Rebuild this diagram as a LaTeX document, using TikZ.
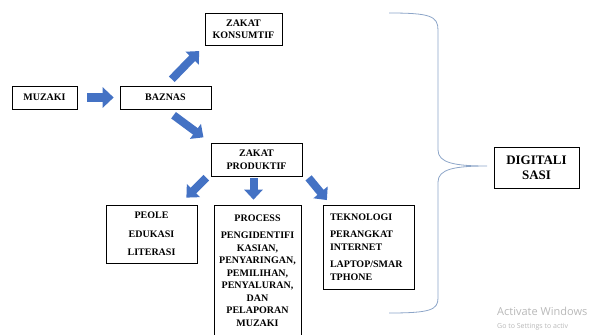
\documentclass[tikz,border=0pt]{standalone}
\usepackage{fontspec}
\setmainfont{Liberation Serif}
\newfontfamily\winfont{Open Sans}
\usetikzlibrary{arrows.meta}
\definecolor{arrowblue}{RGB}{68,114,196}
\definecolor{bracegray}{RGB}{140,165,200}
\begin{document}
\begin{tikzpicture}[x=1pt, y=-1pt,
  box/.style={draw, line width=0.6pt, align=center, inner sep=2pt,
    font=\fontsize{10}{12.5}\selectfont\bfseries},
  blockarrow/.style={draw=arrowblue, line width=9pt,
    -{Triangle[width=20pt,length=11pt]}},
  diagarrow/.style={draw=arrowblue, line width=8pt,
    -{Triangle[width=18pt,length=10pt]}},
  brace/.style={draw=bracegray, line width=0.8pt}]
\clip (0,0) rectangle (593,334);

\node[box, minimum width=65pt, minimum height=23pt] (muzaki) at (44.5,97.5) {MUZAKI};
\node[box, minimum width=91pt, minimum height=23pt] (baznas) at (165.5,97.5) {BAZNAS};
\node[box, minimum width=77pt, minimum height=32pt] (konsumtif) at (243.5,29) {ZAKAT\\KONSUMTIF};
\node[box, minimum width=91pt, minimum height=33pt] (produktif) at (256.5,159.5) {ZAKAT\\PRODUKTIF};
\node[box, minimum width=91pt, minimum height=58pt] (peole) at (151.5,234)
  {PEOLE\\[6pt]EDUKASI\\[6pt]LITERASI};
\node[box, minimum width=87pt, minimum height=131pt] (process) at (257.5,270.5)
  {PROCESS\\[5pt]PENGIDENTIFI\\KASIAN,\\PENYARINGAN,\\PEMILIHAN,\\PENYALURAN,\\DAN\\PELAPORAN\\MUZAKI};
\node[box, align=left, text width=77pt, inner xsep=7pt, minimum height=84pt] (teknologi) at (368.5,247)
  {TEKNOLOGI\\[5pt]PERANGKAT\\INTERNET\\[5pt]LAPTOP/SMAR\\TPHONE};
\node[box, font=\fontsize{13}{15}\selectfont\bfseries, minimum width=85pt, minimum height=41pt] (digital) at (536.5,167.5)
  {DIGITALI\\SASI};

\draw [blockarrow, shorten <=10pt, shorten >=6pt] (muzaki) -- (baznas);
\draw [diagarrow, shorten <=9pt, shorten >=8pt] (baznas.north) -- (konsumtif.south west);
\draw [diagarrow, shorten <=10pt, shorten >=9pt] (baznas.south) -- (produktif.north west);
\draw [diagarrow, shorten <=2pt, shorten >=10pt] ([xshift=-3pt]produktif.south west) -- ([xshift=-18pt]peole.north east);
\draw [diagarrow, shorten <=2pt, shorten >=5pt] ([xshift=-3pt]produktif.south) -- ([xshift=-4pt]process.north);
\draw [diagarrow, shorten <=2pt, shorten >=6pt] ([xshift=5pt]produktif.south east) -- ([xshift=8pt]teknologi.north west);

% brace
\coordinate (tip) at (487,166);
\draw [brace] (389,13) .. controls (430,13) and (438,16) .. (438,30) -- (438,150)
  .. controls (438,163) and (455,166) .. (tip)
  .. controls (455,166) and (438,169) .. (438,182) -- (438,298)
  .. controls (438,310) and (430,313) .. (389,313);

\node[anchor=west, text=black!28, font=\winfont\fontsize{11}{12}\selectfont, inner sep=0pt] (activate) at (497,311) {Activate Windows};
\node[anchor=west, text=black!28, font=\winfont\fontsize{7}{8}\selectfont, inner sep=0pt] (settings) at (497,327) {Go to Settings to activ};
\end{tikzpicture}
\end{document}
